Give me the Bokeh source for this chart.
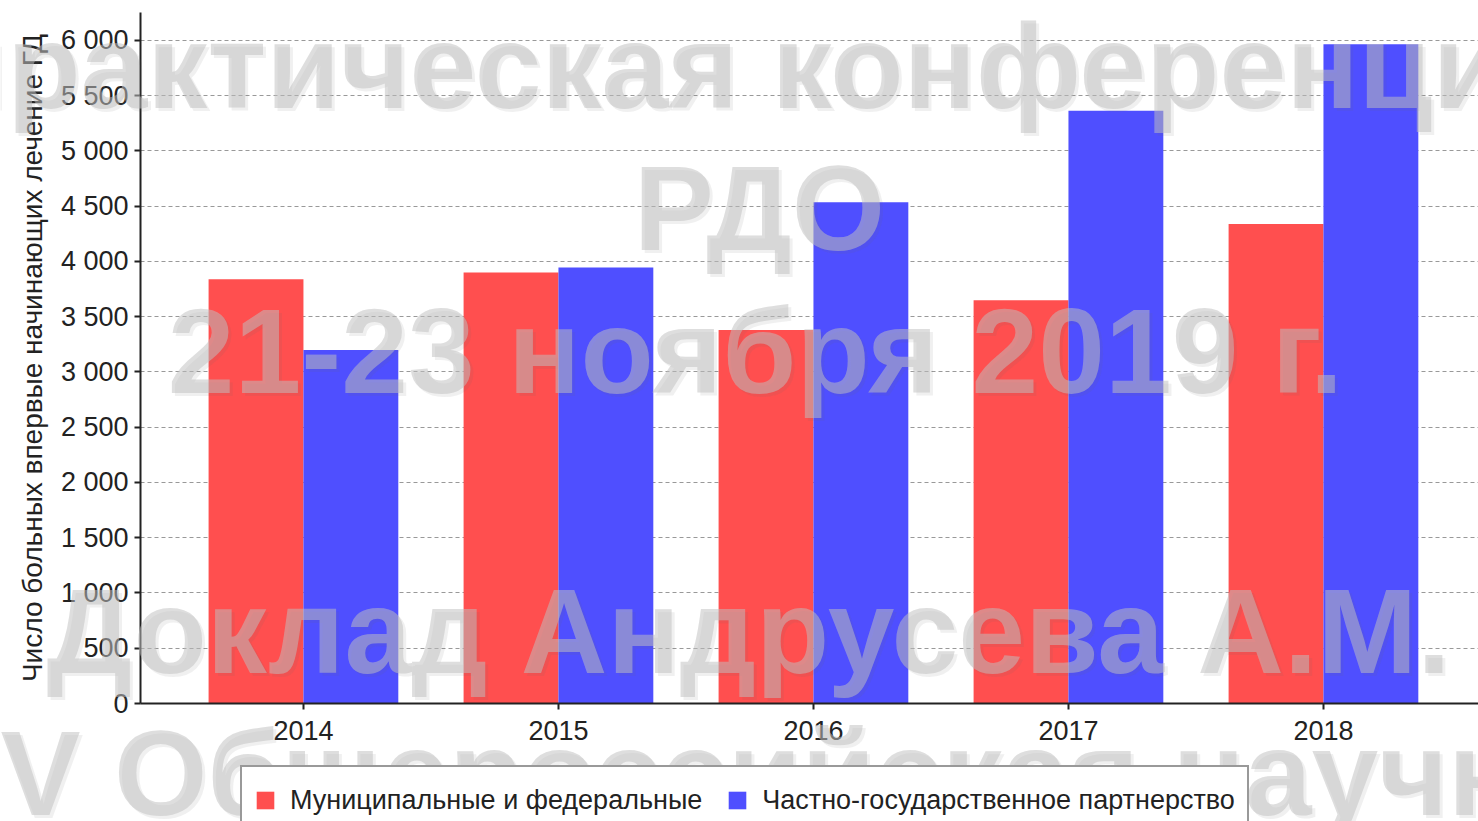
from bokeh.plotting import figure
from bokeh.layouts import column
from bokeh.models import (Range1d, FixedTicker, Legend, LegendItem, Label,
                          ColumnDataSource)
from bokeh.embed import file_html
from bokeh.resources import INLINE

# ---- data ----
years = ["2014", "2015", "2016", "2017", "2018"]
municipal = [3840, 3900, 3380, 3650, 4340]
ppp = [3200, 3945, 4535, 5365, 5965]
series_names = ["Муниципальные и федеральные", "Частно-государственное партнерство"]
y_ticks = [0, 500, 1000, 1500, 2000, 2500, 3000, 3500, 4000, 4500, 5000, 5500, 6000]
y_tick_labels = ["0", "500", "1 000", "1 500", "2 000", "2 500", "3 000",
                 "3 500", "4 000", "4 500", "5 000", "5 500", "6 000"]
y_label = "Число больных впервые начинающих лечение ГД"
watermark_lines = ["практическая конференция", "РДО", "21-23 ноября 2019 г.",
                   "Доклад Андрусева А.М.", "V Общероссийская научно-"]

RED = "#FF4F4F"
BLUE = "#4F4FFF"
FONT = "Liberation Sans"
W, H = 1478, 821

idx = list(range(len(years)))
bar_w = 0.372
src = ColumnDataSource(dict(
    xr=[i - bar_w / 2 for i in idx],
    xb=[i + bar_w / 2 for i in idx],
    mun=municipal, ppp=ppp))

p = figure(width=W, height=H, output_backend="svg", toolbar_location=None,
           x_range=Range1d(-0.639, 4.608), y_range=Range1d(0, 6253),
           min_border_left=140, min_border_top=12, min_border_right=0,
           min_border_bottom=118, frame_align=False)
p.outline_line_color = None
p.background_fill_color = "white"

r1 = p.vbar(x="xr", top="mun", width=bar_w, source=src, fill_color=RED,
            line_color=None)
r2 = p.vbar(x="xb", top="ppp", width=bar_w, source=src, fill_color=BLUE,
            line_color=None)

# axes
p.xaxis.ticker = FixedTicker(ticks=idx)
p.xaxis.major_label_overrides = {i: y for i, y in zip(idx, years)}
p.yaxis.ticker = FixedTicker(ticks=y_ticks)
p.yaxis.major_label_overrides = {t: l for t, l in zip(y_ticks, y_tick_labels)}
for ax in (p.xaxis[0], p.yaxis[0]):
    ax.axis_line_color = "#222222"
    ax.axis_line_width = 2
    ax.major_tick_line_color = "#222222"
    ax.major_tick_line_width = 2
    ax.major_tick_in = 0
    ax.major_tick_out = 6
    ax.minor_tick_line_color = None
    ax.major_label_text_font = FONT
    ax.major_label_text_color = "#222222"
    ax.major_label_text_font_size = "27px"
p.xaxis.major_label_standoff = 11
p.yaxis.major_label_standoff = 6
p.yaxis.axis_label = y_label
p.yaxis.axis_label_text_font = FONT
p.yaxis.axis_label_text_font_style = "normal"
p.yaxis.axis_label_text_font_size = "28px"
p.yaxis.axis_label_text_color = "#222222"
p.yaxis.axis_label_standoff = 10

p.xgrid.grid_line_color = None
p.ygrid.grid_line_color = "#999999"
p.ygrid.grid_line_dash = "4 3"
p.ygrid.grid_line_width = 1

# ---- transparent overlay figure (legend + watermark), pixel coordinates ----
ov = figure(width=W, height=H, output_backend="svg", toolbar_location=None,
            x_range=Range1d(0, W), y_range=Range1d(H, 0),
            x_axis_type=None, y_axis_type=None, min_border=0,
            min_border_left=0, min_border_right=0, min_border_top=0,
            min_border_bottom=0, frame_align=False,
            margin=(-H, 0, 0, 0))
ov.background_fill_alpha = 0
ov.border_fill_alpha = 0
ov.outline_line_color = None
ov.grid.visible = False

# hidden renderers only used for the legend swatches
d1 = ov.vbar(x="xr", top="mun", width=bar_w, source=src, fill_color=RED,
             line_color=None, visible=False)
d2 = ov.vbar(x="xb", top="ppp", width=bar_w, source=src, fill_color=BLUE,
             line_color=None, visible=False)
legend = Legend(items=[LegendItem(label=series_names[0], renderers=[d1]),
                       LegendItem(label=series_names[1], renderers=[d2])],
                orientation="horizontal", location=(240, -14),
                border_line_color="#333333", border_line_width=2,
                background_fill_color="white", background_fill_alpha=1,
                inactive_fill_alpha=0,
                label_text_font=FONT, label_text_font_size="27px",
                label_text_color="#222222",
                glyph_width=22, glyph_height=22, label_height=42,
                label_standoff=14, spacing=24, padding=12, margin=0)
ov.add_layout(legend, "center")

BASE_SHIFT = 43  # bokeh's alphabetic baseline offset at this font size
wm_pos = [(755, 108, "center"), (759, 250, "center"), (755, 393, "center"),
          (748, 673, "center"), (0, 815, "left")]
for (sx, sy, al), txt in zip(wm_pos, watermark_lines):
    yy = sy - BASE_SHIFT
    ov.add_layout(Label(x=sx + 3, y=yy + 3, text=txt, text_font=FONT,
                        text_font_style="bold", text_font_size="120px",
                        text_align=al, text_baseline="alphabetic",
                        text_color="#707070", text_alpha=0.10))
    ov.add_layout(Label(x=sx, y=yy, text=txt, text_font=FONT,
                        text_font_style="bold", text_font_size="120px",
                        text_align=al, text_baseline="alphabetic",
                        text_color="#bfbfbf", text_alpha=0.52))

layout = column(p, ov)
open("out.html", "w").write(file_html(layout, INLINE))
